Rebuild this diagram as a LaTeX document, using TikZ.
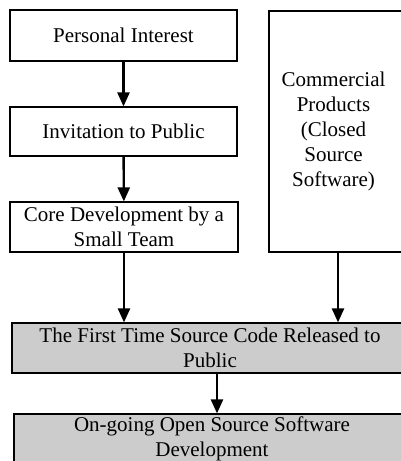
\documentclass[tikz,border=0pt]{standalone}
\usepackage{fontspec}
\setmainfont{Liberation Serif}
\usetikzlibrary{arrows.meta}
\begin{document}
\begin{tikzpicture}[x=1pt,y=1pt]
    \tikzstyle{box}=[draw, line width=1.2pt, align=center, inner sep=2pt,
      font=\fontsize{21}{25}\selectfont]
    \tikzstyle{gbox}=[box, fill=black!20]
    \tikzstyle{arr}=[line width=2.4pt, -{Triangle[length=14pt,width=12pt]}]
    \useasboundingbox (0,0) rectangle (401,-461);
    \clip (0,0) rectangle (401,-461);
    \node[box, minimum width=227, minimum height=51] (pers) at (123.5,-35.5) {Personal Interest};
    \node[box, minimum width=227, minimum height=49] (inv) at (123.5,-131.5) {Invitation to Public};
    \node[box, minimum width=228, minimum height=50] (core) at (124,-227) {Core Development by a\\Small Team};
    \node[box, minimum width=138, minimum height=241] (comm) at (338,-131.5)
      {\begin{tabular}{@{}c@{}}Commercial\\Products\\(Closed\\Source\\Software)\end{tabular}\hspace*{9pt}};
    \node[gbox, minimum width=396, minimum height=50] (first) at (210,-348) {The First Time Source Code Released to\\Public};
    \node[gbox, minimum width=396, minimum height=50] (ongo) at (212,-439) {On-going Open Source Software\\Development};
    \draw[arr] (pers) -- (inv);
    \draw[arr] (inv) -- (core);
    \draw[arr] (core.south) -- (core.south |- first.north);
    \draw[arr] (comm.south) -- (comm.south |- first.north);
    \draw[arr] ([xshift=7pt]first.south) -- ([xshift=7pt]first.south |- ongo.north);
  \end{tikzpicture}
\end{document}
